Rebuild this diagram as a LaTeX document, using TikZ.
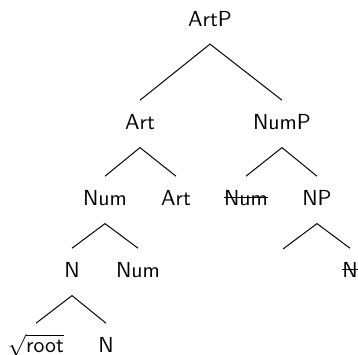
\documentclass[tikz,border=0pt]{standalone}
\newsavebox\strkbox
\newcommand\strk[1]{\sbox\strkbox{#1}\rlap{\rule[3.6pt]{\wd\strkbox}{0.45pt}}\usebox\strkbox}
\begin{document}
\begin{tikzpicture}[x=0.46pt,y=-0.46pt,
  lbl/.style={anchor=base,font=\sffamily,inner xsep=0pt,inner ysep=6.5pt,text height=7pt,text depth=1.4pt},
  edge/.style={line width=0.45pt}]
\useasboundingbox (0,0) rectangle (358,355);
\node[lbl] (artp) at (210,26.5) {ArtP};
\node[lbl] (art) at (140,130) {Art};
\node[lbl] (nump) at (282,130) {NumP};
\node[lbl] (num) at (105,206) {Num};
\node[lbl] (art2) at (176,206) {Art};
\node[lbl] (numx) at (246,206) {\strk{Num}};
\node[lbl] (np) at (317,206) {NP};
\node[lbl] (n) at (72,278) {N};
\node[lbl] (num2) at (138,278) {Num};
\coordinate (npl) at (283,249);
\node[lbl] (nx) at (350,278) {\strk{N}};
\node[lbl] (root) at (36,353) {$\sqrt{\textsf{root}}$};
\node[lbl] (n2) at (106,353) {N};
\draw[edge] (art.north) -- (artp.south) -- (nump.north);
\draw[edge] (num.north) -- (art.south) -- (art2.north);
\draw[edge] (numx.north) -- (nump.south) -- (np.north);
\draw[edge] (n.north) -- (num.south) -- (num2.north);
\draw[edge] (npl) -- (np.south) -- (nx.north);
\draw[edge] (root.north) -- (n.south) -- (n2.north);
\end{tikzpicture}
\end{document}
